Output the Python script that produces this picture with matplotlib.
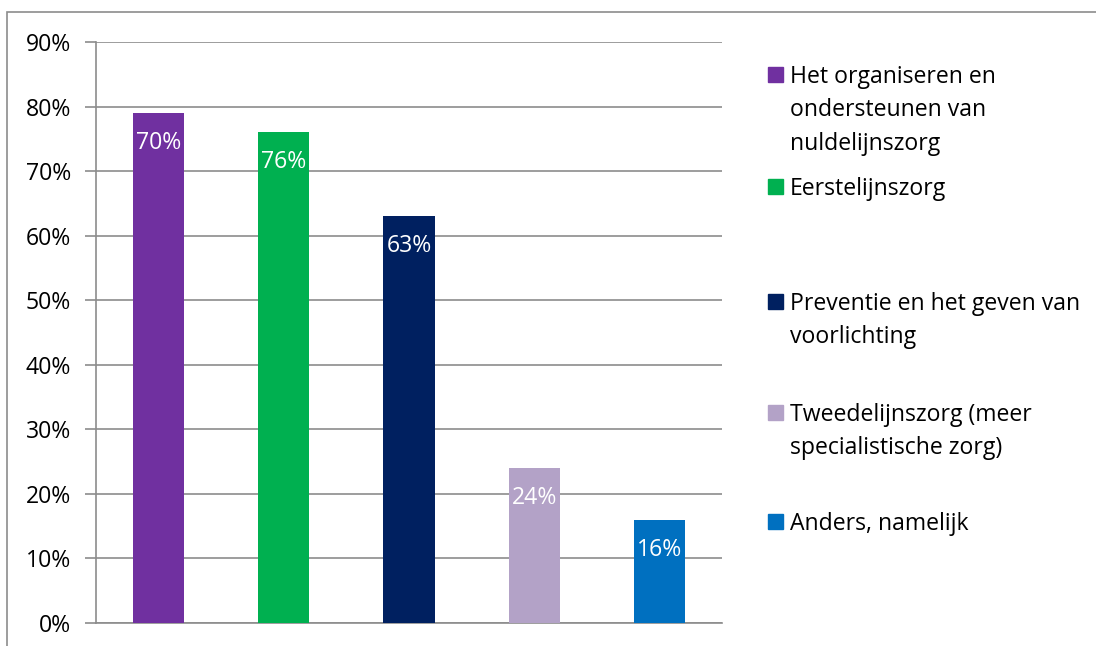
import matplotlib
matplotlib.use("Agg")
import matplotlib.pyplot as plt
from matplotlib.patches import Rectangle

# data
categories = ["Het organiseren en\nondersteunen van\nnuldelijnszorg",
              "Eerstelijnszorg",
              "Preventie en het geven van\nvoorlichting",
              "Tweedelijnszorg (meer\nspecialistische zorg)",
              "Anders, namelijk"]
values = [79, 76, 63, 24, 16]
bar_labels = ["70%", "76%", "63%", "24%", "16%"]
colors = ["#7030A0", "#00B050", "#002060", "#B3A2C7", "#0070C0"]
yticks = [0, 10, 20, 30, 40, 50, 60, 70, 80, 90]

plt.rcParams['font.family'] = ['Open Sans', 'DejaVu Sans']
grey = "#8c8c8c"
fs = 16.6

fig = plt.figure(figsize=(10.96, 6.46), dpi=100)
# outer chart border
fig.patches.append(Rectangle((7/1096, -0.1), 1.2, 1 - 12/646 + 0.1,
                             transform=fig.transFigure, fill=False,
                             edgecolor=grey, linewidth=1.2))

ax = fig.add_axes([96/1096, 1 - 623/646, (722 - 96)/1096, (623 - 42)/646])
x = list(range(len(values)))
ax.bar(x, values, width=0.41, color=colors, zorder=3)
for xi, v, lab in zip(x, values, bar_labels):
    ax.annotate(lab, (xi, v), xytext=(0, -21.5), textcoords="offset points",
                ha="center", va="center", color="white", fontsize=fs, zorder=4)

ax.set_xlim(-0.5, len(values) - 0.5)
ax.set_ylim(0, 90)
ax.set_yticks(yticks)
ax.set_yticklabels([f"{t}%" for t in yticks], fontsize=fs)
ax.set_xticks([])
ax.grid(axis="y", color=grey, linewidth=1.2, zorder=0)
for s in ["top", "right"]:
    ax.spines[s].set_visible(False)
for s in ["left", "bottom"]:
    ax.spines[s].set_color(grey)
    ax.spines[s].set_linewidth(1.2)
ax.tick_params(axis="y", length=8, width=1.2, color=grey, pad=10)

# legend drawn by hand to follow Excel spacing
leg_y = [75, 187, 302, 413, 522]
for lab, c, yy in zip(categories, colors, leg_y):
    fig.patches.append(Rectangle((768/1096, 1 - (yy + 7)/646), 15/1096, 15/646,
                                 transform=fig.transFigure, color=c))
    fig.text(790/1096, 1 - (yy - 10)/646, lab, fontsize=fs, va="top",
             ha="left", linespacing=1.52)

plt.savefig("out.png", dpi=100)
